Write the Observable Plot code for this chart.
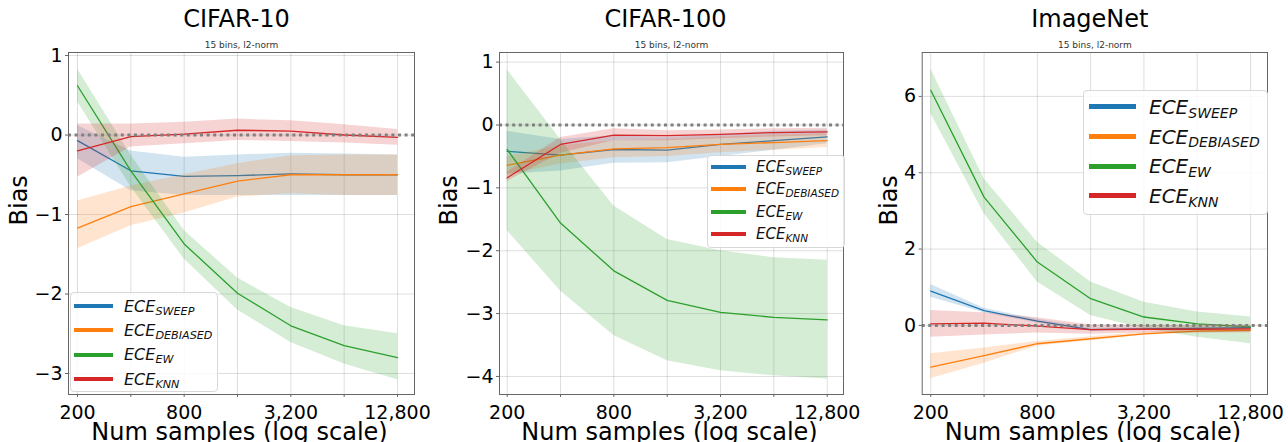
<!DOCTYPE html>
<html>
<head>
<meta charset="utf-8">
<script src="https://cdn.jsdelivr.net/npm/d3@7"></script>
<script src="https://cdn.jsdelivr.net/npm/@observablehq/plot@0.6"></script>
<style>
  html, body { margin: 0; padding: 0; background: white; }
  #root { position: relative; width: 1288px; height: 442px; overflow: hidden; background: white; font-family: "DejaVu Sans", sans-serif; }
  .panel { position: absolute; top: 0; }
  .legend { position: absolute; background: rgba(255,255,255,0.85); border: 1px solid #d8d8d8; border-radius: 4px; box-sizing: border-box; }
  .row { display: flex; align-items: center; }
  .sw { flex: none; }
  .lab { font-style: italic; white-space: nowrap; color: #111; }
  .lab sub { font-size: 0.7em; vertical-align: baseline; position: relative; top: 0.28em; }
</style>
</head>
<body>
<div id="root"></div>
<script>
// ---- data ----
const samples = [200, 400, 800, 1600, 3200, 6400, 12800];
const xTickLabels = [200, 800, 3200, 12800];
const seriesNames = ["SWEEP", "DEBIASED", "EW", "KNN"];
const seriesColors = ["#1f77b4", "#ff7f0e", "#2ca02c", "#d62728"];
const panelTitles = ["CIFAR-10", "CIFAR-100", "ImageNet"];
const subtitle = "15 bins, l2-norm";

// CIFAR-10
const c10Sweep    = [-0.07, -0.45, -0.52, -0.51, -0.49, -0.50, -0.50];
const c10SweepLo  = [-0.30, -0.70, -0.76, -0.76, -0.76, -0.76, -0.76];
const c10SweepHi  = [ 0.12, -0.20, -0.28, -0.25, -0.23, -0.24, -0.25];
const c10Deb      = [-1.17, -0.90, -0.74, -0.58, -0.50, -0.50, -0.50];
const c10DebLo    = [-1.43, -1.14, -0.98, -0.78, -0.74, -0.76, -0.76];
const c10DebHi    = [-0.83, -0.64, -0.50, -0.36, -0.26, -0.25, -0.25];
const c10Ew       = [ 0.62, -0.45, -1.37, -1.99, -2.40, -2.65, -2.80];
const c10EwLo     = [ 0.42, -0.65, -1.56, -2.20, -2.61, -2.88, -3.08];
const c10EwHi     = [ 0.83, -0.25, -1.20, -1.80, -2.17, -2.40, -2.50];
const c10Knn      = [-0.20, -0.02,  0.01,  0.06,  0.05,  0.00, -0.03];
const c10KnnLo    = [-0.53, -0.15, -0.11, -0.07, -0.08, -0.10, -0.13];
const c10KnnHi    = [ 0.14,  0.14,  0.16,  0.20,  0.18,  0.13,  0.07];

// CIFAR-100
const c100Sweep   = [-0.42, -0.48, -0.39, -0.40, -0.31, -0.25, -0.19];
const c100SweepLo = [-0.78, -0.73, -0.61, -0.60, -0.50, -0.40, -0.30];
const c100SweepHi = [-0.10, -0.23, -0.17, -0.20, -0.15, -0.10, -0.08];
const c100Deb     = [-0.64, -0.48, -0.38, -0.36, -0.31, -0.28, -0.25];
const c100DebLo   = [-0.80, -0.62, -0.52, -0.50, -0.44, -0.40, -0.36];
const c100DebHi   = [-0.50, -0.33, -0.25, -0.23, -0.19, -0.16, -0.14];
const c100Ew      = [-0.39, -1.56, -2.32, -2.79, -2.98, -3.06, -3.10];
const c100EwLo    = [-1.68, -2.64, -3.35, -3.75, -3.91, -3.99, -4.04];
const c100EwHi    = [ 0.88, -0.23, -1.29, -1.82, -2.00, -2.11, -2.15];
const c100Knn     = [-0.84, -0.31, -0.16, -0.17, -0.15, -0.12, -0.11];
const c100KnnLo   = [-0.90, -0.45, -0.25, -0.25, -0.22, -0.19, -0.17];
const c100KnnHi   = [-0.75, -0.20, -0.06, -0.09, -0.08, -0.06, -0.05];

// ImageNet
const inSweep     = [ 0.90,  0.39,  0.11, -0.11, -0.09, -0.08, -0.06];
const inSweepLo   = [ 0.74,  0.33,  0.06, -0.15, -0.12, -0.11, -0.09];
const inSweepHi   = [ 1.07,  0.45,  0.16, -0.07, -0.06, -0.05, -0.03];
const inDeb       = [-1.09, -0.79, -0.48, -0.35, -0.22, -0.15, -0.13];
const inDebLo     = [-1.40, -0.99, -0.54, -0.40, -0.26, -0.19, -0.17];
const inDebHi     = [-0.74, -0.59, -0.42, -0.30, -0.18, -0.11, -0.09];
const inEw        = [ 6.16,  3.36,  1.66,  0.70,  0.22,  0.04, -0.04];
const inEwLo      = [ 5.55,  2.93,  1.14,  0.26, -0.09, -0.31, -0.48];
const inEwHi      = [ 6.72,  3.84,  2.18,  1.14,  0.61,  0.35,  0.22];
const inKnn       = [ 0.04,  0.06, -0.02, -0.11, -0.10, -0.10, -0.09];
const inKnnLo     = [-0.31, -0.25, -0.20, -0.23, -0.20, -0.20, -0.19];
const inKnnHi     = [ 0.39,  0.33,  0.20,  0.01,  0.00,  0.00,  0.01];

const c10YTicks  = [-3, -2, -1, 0, 1];
const c100YTicks = [-4, -3, -2, -1, 0, 1];
const inYTicks   = [0, 2, 4, 6];

// ---- panel configuration ----
const panels = [
  { title: panelTitles[0], left: 0, width: 430, mL: 68, mR: 16, yDomain: [-3.264, 1.038], yTicks: c10YTicks,
    xPad: [0.169, 0.319], titleDx: -5, biasDx: -49.5,
    series: [[c10Sweep, c10SweepLo, c10SweepHi], [c10Deb, c10DebLo, c10DebHi], [c10Ew, c10EwLo, c10EwHi], [c10Knn, c10KnnLo, c10KnnHi]],
    legend: { left: 70, top: 292, width: 148, height: 100, rowH: 24.3, padT: 1, padL: 3, swW: 39, swH: 4, gap: 11, font: 16 } },
  { title: panelTitles[1], left: 430, width: 430, mL: 69, mR: 17, yDomain: [-4.287, 1.153], yTicks: c100YTicks,
    xPad: [0.144, 0.306], titleDx: -6, biasDx: -50,
    series: [[c100Sweep, c100SweepLo, c100SweepHi], [c100Deb, c100DebLo, c100DebHi], [c100Ew, c100EwLo, c100EwHi], [c100Knn, c100KnnLo, c100KnnHi]],
    legend: { left: 277, top: 155, width: 138, height: 93, rowH: 22.3, padT: 0, padL: 3, swW: 35, swH: 4, gap: 10, font: 15 } },
  { title: panelTitles[2], left: 860, width: 428, mL: 61.7, mR: 21, yDomain: [-1.81, 7.15], yTicks: inYTicks,
    xPad: [0.161, 0.319], titleDx: -5, biasDx: -32.7,
    series: [[inSweep, inSweepLo, inSweepHi], [inDeb, inDebLo, inDebHi], [inEw, inEwLo, inEwHi], [inKnn, inKnnLo, inKnnHi]],
    legend: { left: 223, top: 90, width: 185, height: 125, rowH: 29.7, padT: 1, padL: 5, swW: 47, swH: 5, gap: 13, font: 20 } }
];

const fmt = d3.format(",");
const yFmt = d => d < 0 ? "\u2212" + (-d) : String(d);
const root = document.getElementById("root");

for (const p of panels) {
  const marks = [
    Plot.gridX(samples, { stroke: "#000", strokeOpacity: 0.13, strokeWidth: 1 }),
    Plot.gridY(p.yTicks, { stroke: "#000", strokeOpacity: 0.13, strokeWidth: 1 })
  ];
  p.series.forEach(([vals, lo, hi], i) => {
    const rows = samples.map((n, j) => ({ n, v: vals[j], lo: lo[j], hi: hi[j] }));
    marks.push(Plot.areaY(rows, { x: "n", y1: "lo", y2: "hi", fill: seriesColors[i], fillOpacity: 0.2 }));
    marks.push(Plot.line(rows, { x: "n", y: "v", stroke: seriesColors[i], strokeWidth: 1.3 }));
  });
  marks.push(
    Plot.ruleY([0], { stroke: "#808080", strokeWidth: 3, strokeDasharray: "3,3.6" }),
    Plot.frame({ stroke: "#666", strokeWidth: 1 }),
    Plot.axisX(samples, { tickFormat: d => xTickLabels.includes(d) ? fmt(d) : "", fontSize: 19, tickSize: 3, tickPadding: 8, label: null, stroke: "#666" }),
    Plot.axisY(p.yTicks, { tickFormat: yFmt, fontSize: 19, tickSize: 3, tickPadding: 3, label: null, stroke: "#666" }),
    Plot.text([p.title], { frameAnchor: "top", lineAnchor: "bottom", dy: -26, dx: p.titleDx, fontSize: 24, fill: "#000" }),
    Plot.text([subtitle], { frameAnchor: "top", lineAnchor: "middle", dy: -7, fontSize: 9, fill: "#333" }),
    Plot.text(["Num samples (log scale)"], { frameAnchor: "bottom", lineAnchor: "bottom", dy: 45, dx: -2, fontSize: 24, fill: "#000" }),
    Plot.text(["Bias"], { frameAnchor: "left", rotate: -90, lineAnchor: "middle", dx: p.biasDx, dy: 2, fontSize: 24, fill: "#000" })
  );
  const chart = Plot.plot({
    width: p.width,
    height: 442,
    marginLeft: p.mL,
    marginRight: p.mR,
    marginTop: 52,
    marginBottom: 48,
    x: { type: "log", base: 2, domain: [200 * Math.pow(2, -p.xPad[0]), 12800 * Math.pow(2, p.xPad[1])] },
    y: { domain: p.yDomain },
    style: { fontFamily: "DejaVu Sans", background: "white", overflow: "visible", color: "#000" },
    marks
  });
  const wrap = document.createElement("div");
  wrap.className = "panel";
  wrap.style.left = p.left + "px";
  wrap.style.width = p.width + "px";
  wrap.style.height = "442px";
  wrap.appendChild(chart);

  // legend overlay
  const L = p.legend;
  const lg = document.createElement("div");
  lg.className = "legend";
  Object.assign(lg.style, { left: L.left + "px", top: L.top + "px", width: L.width + "px", height: L.height + "px", paddingTop: L.padT + "px", paddingLeft: L.padL + "px" });
  seriesNames.forEach((name, i) => {
    const row = document.createElement("div");
    row.className = "row";
    row.style.height = L.rowH + "px";
    const sw = document.createElement("div");
    sw.className = "sw";
    Object.assign(sw.style, { width: L.swW + "px", height: L.swH + "px", background: seriesColors[i], marginRight: L.gap + "px" });
    const lab = document.createElement("div");
    lab.className = "lab";
    lab.style.fontSize = L.font + "px";
    lab.innerHTML = "ECE<sub>" + name + "</sub>";
    row.appendChild(sw);
    row.appendChild(lab);
    lg.appendChild(row);
  });
  wrap.appendChild(lg);
  root.appendChild(wrap);
}
</script>
</body>
</html>
